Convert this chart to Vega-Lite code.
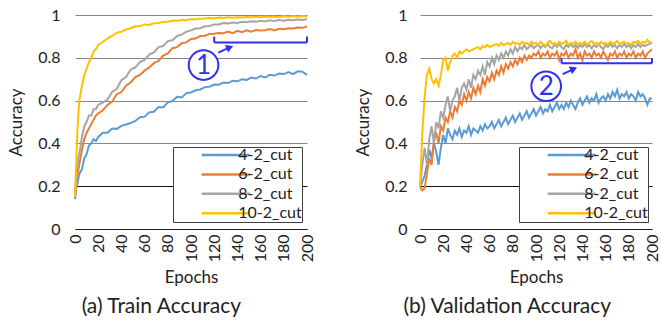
{
"$schema":"https://vega.github.io/schema/vega-lite/v6.json",
"padding":{"left":7,"top":7,"right":0,"bottom":0},
"background":"white",
"config":{"font":"Lato","view":{"stroke":null},
"axis":{"labelFont":"Lato","titleFont":"Lato","labelFontSize":16,"titleFontSize":17,"labelColor":"#222","titleColor":"#222","titleFontWeight":"normal","ticks":false,"labelOverlap":false},
"axisX":{"labelOverlap":false,"labelFlush":false},
"title":{"font":"Lato","fontSize":21,"fontWeight":"normal","color":"#222"}},
"datasets":{
"train":[
{"x":0,"a":0.14,"b":0.15,"c":0.15,"d":0.15},
{"x":1,"a":0.19,"b":0.21,"c":0.23,"d":0.30},
{"x":2,"a":0.21,"b":0.25,"c":0.28,"d":0.45},
{"x":3,"a":0.24,"b":0.28,"c":0.33,"d":0.55},
{"x":4,"a":0.26,"b":0.31,"c":0.36,"d":0.61},
{"x":6,"a":0.28,"b":0.37,"c":0.43,"d":0.67},
{"x":8,"a":0.33,"b":0.42,"c":0.48,"d":0.72},
{"x":10,"a":0.35,"b":0.45,"c":0.50,"d":0.75},
{"x":12,"a":0.39,"b":0.47,"c":0.53,"d":0.78},
{"x":14,"a":0.40,"b":0.49,"c":0.53,"d":0.80},
{"x":16,"a":0.42,"b":0.51,"c":0.56,"d":0.83},
{"x":18,"a":0.41,"b":0.53,"c":0.56,"d":0.84},
{"x":20,"a":0.43,"b":0.54,"c":0.58,"d":0.86},
{"x":24,"a":0.45,"b":0.555,"c":0.59,"d":0.875},
{"x":28,"a":0.45,"b":0.58,"c":0.605,"d":0.89},
{"x":32,"a":0.47,"b":0.595,"c":0.64,"d":0.902},
{"x":36,"a":0.468,"b":0.63,"c":0.655,"d":0.917},
{"x":40,"a":0.482,"b":0.64,"c":0.695,"d":0.922},
{"x":44,"a":0.488,"b":0.67,"c":0.71,"d":0.932},
{"x":48,"a":0.495,"b":0.685,"c":0.745,"d":0.938},
{"x":52,"a":0.505,"b":0.71,"c":0.755,"d":0.947},
{"x":56,"a":0.522,"b":0.72,"c":0.78,"d":0.948},
{"x":60,"a":0.525,"b":0.74,"c":0.79,"d":0.956},
{"x":64,"a":0.545,"b":0.755,"c":0.815,"d":0.953},
{"x":68,"a":0.548,"b":0.775,"c":0.825,"d":0.961},
{"x":72,"a":0.57,"b":0.785,"c":0.85,"d":0.963},
{"x":76,"a":0.568,"b":0.81,"c":0.855,"d":0.967},
{"x":80,"a":0.592,"b":0.82,"c":0.878,"d":0.968},
{"x":84,"a":0.598,"b":0.845,"c":0.882,"d":0.974},
{"x":88,"a":0.618,"b":0.85,"c":0.902,"d":0.973},
{"x":92,"a":0.615,"b":0.868,"c":0.908,"d":0.977},
{"x":96,"a":0.635,"b":0.872,"c":0.922,"d":0.976},
{"x":100,"a":0.638,"b":0.888,"c":0.928,"d":0.981},
{"x":104,"a":0.648,"b":0.89,"c":0.937,"d":0.979},
{"x":108,"a":0.652,"b":0.902,"c":0.938,"d":0.983},
{"x":112,"a":0.663,"b":0.903,"c":0.947,"d":0.984},
{"x":116,"a":0.665,"b":0.911,"c":0.949,"d":0.986},
{"x":120,"a":0.675,"b":0.912,"c":0.956,"d":0.984},
{"x":124,"a":0.674,"b":0.916,"c":0.956,"d":0.988},
{"x":128,"a":0.684,"b":0.915,"c":0.962,"d":0.986},
{"x":132,"a":0.682,"b":0.923,"c":0.96,"d":0.989},
{"x":136,"a":0.693,"b":0.915,"c":0.965,"d":0.987},
{"x":140,"a":0.69,"b":0.926,"c":0.963,"d":0.99},
{"x":144,"a":0.7,"b":0.92,"c":0.968,"d":0.988},
{"x":148,"a":0.697,"b":0.928,"c":0.966,"d":0.991},
{"x":152,"a":0.708,"b":0.922,"c":0.971,"d":0.989},
{"x":156,"a":0.703,"b":0.93,"c":0.968,"d":0.992},
{"x":160,"a":0.715,"b":0.928,"c":0.973,"d":0.99},
{"x":164,"a":0.708,"b":0.929,"c":0.97,"d":0.993},
{"x":168,"a":0.721,"b":0.934,"c":0.975,"d":0.991},
{"x":172,"a":0.717,"b":0.928,"c":0.972,"d":0.993},
{"x":176,"a":0.726,"b":0.936,"c":0.977,"d":0.99},
{"x":180,"a":0.724,"b":0.933,"c":0.973,"d":0.994},
{"x":184,"a":0.733,"b":0.938,"c":0.978,"d":0.992},
{"x":188,"a":0.724,"b":0.937,"c":0.975,"d":0.995},
{"x":192,"a":0.737,"b":0.942,"c":0.979,"d":0.992},
{"x":196,"a":0.735,"b":0.94,"c":0.977,"d":0.995},
{"x":200,"a":0.72,"b":0.946,"c":0.98,"d":0.993}
],
"val":[
{"x":0,"a":0.20,"b":0.20,"c":0.20,"d":0.20},
{"x":2,"a":0.22,"b":0.18,"c":0.30,"d":0.45},
{"x":4,"a":0.25,"b":0.19,"c":0.38,"d":0.62},
{"x":6,"a":0.30,"b":0.26,"c":0.30,"d":0.72},
{"x":8,"a":0.37,"b":0.33,"c":0.42,"d":0.75},
{"x":10,"a":0.33,"b":0.30,"c":0.48,"d":0.70},
{"x":12,"a":0.40,"b":0.41,"c":0.40,"d":0.68},
{"x":14,"a":0.36,"b":0.45,"c":0.50,"d":0.70},
{"x":16,"a":0.30,"b":0.40,"c":0.47,"d":0.67},
{"x":18,"a":0.38,"b":0.48,"c":0.55,"d":0.72},
{"x":20,"a":0.44,"b":0.46,"c":0.52,"d":0.79},
{"x":22,"a":0.40,"b":0.52,"c":0.58,"d":0.80},
{"x":24,"a":0.47,"b":0.50,"c":0.62,"d":0.74},
{"x":26,"a":0.44,"b":0.55,"c":0.55,"d":0.78},
{"x":28,"a":0.42,"b":0.52,"c":0.60,"d":0.81},
{"x":30,"a":0.46,"b":0.57,"c":0.62,"d":0.82},
{"x":32,"a":0.44,"b":0.55,"c":0.66,"d":0.80},
{"x":34,"a":0.47,"b":0.60,"c":0.60,"d":0.83},
{"x":36,"a":0.43,"b":0.58,"c":0.66,"d":0.82},
{"x":38,"a":0.46,"b":0.63,"c":0.68,"d":0.83},
{"x":40,"a":0.45,"b":0.60,"c":0.65,"d":0.84},
{"x":42,"a":0.48,"b":0.64,"c":0.70,"d":0.83},
{"x":44,"a":0.44,"b":0.61,"c":0.66,"d":0.835},
{"x":46,"a":0.47,"b":0.66,"c":0.72,"d":0.84},
{"x":48,"a":0.46,"b":0.63,"c":0.70,"d":0.845},
{"x":50,"a":0.45,"b":0.67,"c":0.74,"d":0.85},
{"x":52,"a":0.48,"b":0.64,"c":0.72,"d":0.84},
{"x":54,"a":0.46,"b":0.70,"c":0.76,"d":0.855},
{"x":56,"a":0.49,"b":0.67,"c":0.72,"d":0.85},
{"x":58,"a":0.47,"b":0.71,"c":0.78,"d":0.86},
{"x":60,"a":0.48,"b":0.69,"c":0.76,"d":0.85},
{"x":62,"a":0.50,"b":0.73,"c":0.80,"d":0.855},
{"x":64,"a":0.47,"b":0.70,"c":0.77,"d":0.86},
{"x":66,"a":0.49,"b":0.74,"c":0.81,"d":0.865},
{"x":68,"a":0.51,"b":0.72,"c":0.79,"d":0.855},
{"x":70,"a":0.48,"b":0.76,"c":0.82,"d":0.87},
{"x":72,"a":0.50,"b":0.73,"c":0.80,"d":0.86},
{"x":74,"a":0.52,"b":0.77,"c":0.83,"d":0.865},
{"x":76,"a":0.49,"b":0.75,"c":0.81,"d":0.87},
{"x":78,"a":0.51,"b":0.78,"c":0.84,"d":0.86},
{"x":80,"a":0.53,"b":0.76,"c":0.82,"d":0.875},
{"x":82,"a":0.50,"b":0.79,"c":0.85,"d":0.865},
{"x":84,"a":0.52,"b":0.77,"c":0.83,"d":0.87},
{"x":86,"a":0.54,"b":0.80,"c":0.85,"d":0.86},
{"x":88,"a":0.51,"b":0.78,"c":0.84,"d":0.875},
{"x":90,"a":0.53,"b":0.81,"c":0.86,"d":0.865},
{"x":92,"a":0.55,"b":0.79,"c":0.84,"d":0.87},
{"x":94,"a":0.52,"b":0.81,"c":0.85,"d":0.86},
{"x":96,"a":0.54,"b":0.80,"c":0.86,"d":0.875},
{"x":98,"a":0.56,"b":0.82,"c":0.845,"d":0.865},
{"x":100,"a":0.53,"b":0.81,"c":0.855,"d":0.87},
{"x":102,"a":0.55,"b":0.83,"c":0.86,"d":0.86},
{"x":104,"a":0.57,"b":0.80,"c":0.845,"d":0.875},
{"x":106,"a":0.54,"b":0.82,"c":0.86,"d":0.865},
{"x":108,"a":0.56,"b":0.81,"c":0.85,"d":0.855},
{"x":110,"a":0.55,"b":0.83,"c":0.865,"d":0.87},
{"x":112,"a":0.58,"b":0.80,"c":0.85,"d":0.88},
{"x":114,"a":0.55,"b":0.82,"c":0.845,"d":0.865},
{"x":116,"a":0.57,"b":0.81,"c":0.86,"d":0.87},
{"x":118,"a":0.59,"b":0.83,"c":0.85,"d":0.86},
{"x":120,"a":0.56,"b":0.79,"c":0.865,"d":0.875},
{"x":122,"a":0.58,"b":0.82,"c":0.85,"d":0.865},
{"x":124,"a":0.56,"b":0.81,"c":0.84,"d":0.87},
{"x":126,"a":0.59,"b":0.83,"c":0.86,"d":0.88},
{"x":128,"a":0.57,"b":0.80,"c":0.85,"d":0.86},
{"x":130,"a":0.60,"b":0.82,"c":0.865,"d":0.87},
{"x":132,"a":0.58,"b":0.81,"c":0.85,"d":0.865},
{"x":134,"a":0.56,"b":0.84,"c":0.86,"d":0.875},
{"x":136,"a":0.59,"b":0.80,"c":0.845,"d":0.86},
{"x":138,"a":0.61,"b":0.82,"c":0.86,"d":0.87},
{"x":140,"a":0.58,"b":0.79,"c":0.85,"d":0.865},
{"x":142,"a":0.60,"b":0.83,"c":0.865,"d":0.875},
{"x":144,"a":0.62,"b":0.81,"c":0.85,"d":0.86},
{"x":146,"a":0.59,"b":0.82,"c":0.86,"d":0.87},
{"x":148,"a":0.61,"b":0.80,"c":0.845,"d":0.88},
{"x":150,"a":0.60,"b":0.83,"c":0.86,"d":0.865},
{"x":152,"a":0.63,"b":0.81,"c":0.85,"d":0.87},
{"x":154,"a":0.59,"b":0.82,"c":0.865,"d":0.86},
{"x":156,"a":0.61,"b":0.80,"c":0.85,"d":0.875},
{"x":158,"a":0.62,"b":0.83,"c":0.84,"d":0.865},
{"x":160,"a":0.60,"b":0.81,"c":0.86,"d":0.87},
{"x":162,"a":0.63,"b":0.79,"c":0.85,"d":0.86},
{"x":164,"a":0.61,"b":0.82,"c":0.865,"d":0.875},
{"x":166,"a":0.64,"b":0.81,"c":0.85,"d":0.865},
{"x":168,"a":0.62,"b":0.83,"c":0.86,"d":0.87},
{"x":170,"a":0.65,"b":0.80,"c":0.845,"d":0.88},
{"x":172,"a":0.61,"b":0.82,"c":0.86,"d":0.865},
{"x":174,"a":0.63,"b":0.81,"c":0.85,"d":0.87},
{"x":176,"a":0.62,"b":0.83,"c":0.865,"d":0.875},
{"x":178,"a":0.64,"b":0.80,"c":0.85,"d":0.865},
{"x":180,"a":0.61,"b":0.82,"c":0.86,"d":0.87},
{"x":182,"a":0.63,"b":0.81,"c":0.845,"d":0.86},
{"x":184,"a":0.62,"b":0.83,"c":0.86,"d":0.875},
{"x":186,"a":0.60,"b":0.80,"c":0.85,"d":0.87},
{"x":188,"a":0.64,"b":0.82,"c":0.865,"d":0.88},
{"x":190,"a":0.62,"b":0.81,"c":0.85,"d":0.865},
{"x":192,"a":0.63,"b":0.83,"c":0.86,"d":0.875},
{"x":194,"a":0.61,"b":0.80,"c":0.855,"d":0.87},
{"x":196,"a":0.58,"b":0.82,"c":0.86,"d":0.885},
{"x":198,"a":0.61,"b":0.83,"c":0.865,"d":0.87},
{"x":200,"a":0.61,"b":0.84,"c":0.87,"d":0.875}
]},
"bounds":"flush",
"spacing":113,
"resolve":{"legend":{"color":"independent"}},
"hconcat":[
{"width":232,"height":214,
"title":{"text":"(a) Train Accuracy","orient":"bottom","frame":"bounds","anchor":"middle","offset":10},
"resolve":{"axis":{"x":"independent","y":"independent"}},
"layer":[
{"data":{"name":"train"},"transform":[{"fold":["a","b","c","d"],"as":["s","y"]}],
"mark":{"type":"line","strokeWidth":2},
"encoding":{
"x":{"field":"x","type":"quantitative","scale":{"domain":[0,200],"nice":false},"axis":{"values":[0,20,40,60,80,100,120,140,160,180,200],"labelAngle":270,"labelOverlap":false,"labelFlush":false,"labelPadding":5,"title":"Epochs","titlePadding":8,"grid":false,"domainColor":"#222"}},
"y":{"field":"y","type":"quantitative","scale":{"domain":[0,1],"nice":false},"axis":{"values":[0,0.2,0.4,0.6,0.8,1],"format":"~g","labelPadding":15,"title":"Accuracy","titlePadding":12,"domain":false,"grid":true,"gridColor":{"condition":{"test":"datum.value === 0.2 || datum.value === 0","value":"#111"},"value":"#888"}}},
"color":{"field":"s","type":"nominal","scale":{"domain":["a","b","c","d"],"range":["#5B9BD5","#ED7D31","#A5A5A5","#FFC000"]},
"legend":{"orient":"none","legendX":98,"legendY":132,"title":null,"strokeColor":"#404040","fillColor":"white","padding":0,"symbolType":"M-4.5,0H4.5","symbolSize":114,"symbolStrokeWidth":2.5,"symbolOffset":44.7,"labelFontSize":16,"labelFont":"Lato","labelColor":"#222","labelOffset":4.6,"rowPadding":3.4,"labelExpr":"({'a':'4-2_cut','b':'6-2_cut','c':'8-2_cut','d':'10-2_cut'})[datum.label] + '\u00a0\u00a0\u00a0\u00a0\u00a0\u00a0\u00a0\u00a0\u00a0\u00a0\u00a0\u00a0\u00a0\u00a0\u00a0\u00a0\u00a0\u00a0'"}}}},
{"data":{"values":[{}]},"mark":{"type":"rule","color":"#3030F0","strokeWidth":2},"encoding":{"x":{"datum":120,"axis":null},"x2":{"datum":200},"y":{"datum":0.872,"axis":null}}},
{"data":{"values":[{}]},"mark":{"type":"rule","color":"#3030F0","strokeWidth":2},"encoding":{"x":{"datum":120,"axis":null},"y":{"datum":0.872,"axis":null},"y2":{"datum":0.899}}},
{"data":{"values":[{}]},"mark":{"type":"rule","color":"#3030F0","strokeWidth":2},"encoding":{"x":{"datum":200,"axis":null},"y":{"datum":0.872,"axis":null},"y2":{"datum":0.899}}},
{"data":{"values":[{}]},"mark":{"type":"rule","color":"#3030F0","strokeWidth":2},"encoding":{"x":{"datum":123.5,"axis":null},"y":{"datum":0.824,"axis":null},"x2":{"datum":132},"y2":{"datum":0.845}}},
{"data":{"values":[{}]},"mark":{"type":"point","shape":"triangle-up","angle":67,"size":70,"filled":true,"color":"#3030F0","opacity":1},"encoding":{"x":{"datum":133.5,"axis":null},"y":{"datum":0.849,"axis":null}}},
{"data":{"values":[{}]},"mark":{"type":"point","shape":"circle","size":880,"filled":true,"fill":"white","stroke":"#3030F0","strokeWidth":2,"opacity":1},"encoding":{"x":{"datum":110.8,"axis":null},"y":{"datum":0.766,"axis":null}}},
{"data":{"values":[{}]},"mark":{"type":"text","text":"1","font":"Lato","fontSize":26,"color":"#3030F0","align":"center","baseline":"middle","dy":1},"encoding":{"x":{"datum":110.8,"axis":null},"y":{"datum":0.766,"axis":null}}}
]},
{"width":232,"height":214,
"title":{"text":"(b) Validation Accuracy","orient":"bottom","frame":"bounds","anchor":"middle","offset":10},
"resolve":{"axis":{"x":"independent","y":"independent"}},
"layer":[
{"data":{"name":"val"},"transform":[{"fold":["a","b","c","d"],"as":["s","y"]}],
"mark":{"type":"line","strokeWidth":2},
"encoding":{
"x":{"field":"x","type":"quantitative","scale":{"domain":[0,200],"nice":false},"axis":{"values":[0,20,40,60,80,100,120,140,160,180,200],"labelAngle":270,"labelOverlap":false,"labelFlush":false,"labelPadding":5,"title":"Epochs","titlePadding":8,"grid":false,"domainColor":"#222"}},
"y":{"field":"y","type":"quantitative","scale":{"domain":[0,1],"nice":false},"axis":{"values":[0,0.2,0.4,0.6,0.8,1],"format":"~g","labelPadding":13,"title":"Accuracy","titlePadding":12,"domain":false,"grid":true,"gridColor":{"condition":{"test":"datum.value === 0.2 || datum.value === 0","value":"#111"},"value":"#888"}}},
"color":{"field":"s","type":"nominal","scale":{"domain":["a","b","c","d"],"range":["#5B9BD5","#ED7D31","#A5A5A5","#FFC000"]},
"legend":{"orient":"none","legendX":99,"legendY":132,"title":null,"strokeColor":"#404040","fillColor":"white","padding":0,"symbolType":"M-4.5,0H4.5","symbolSize":114,"symbolStrokeWidth":2.5,"symbolOffset":44.7,"labelFontSize":16,"labelFont":"Lato","labelColor":"#222","labelOffset":4.6,"rowPadding":3.4,"labelExpr":"({'a':'4-2_cut','b':'6-2_cut','c':'8-2_cut','d':'10-2_cut'})[datum.label] + '\u00a0\u00a0\u00a0\u00a0\u00a0\u00a0\u00a0\u00a0\u00a0\u00a0\u00a0\u00a0\u00a0\u00a0\u00a0\u00a0\u00a0\u00a0'"}}}},
{"data":{"values":[{}]},"mark":{"type":"rule","color":"#3030F0","strokeWidth":2},"encoding":{"x":{"datum":122,"axis":null},"x2":{"datum":200},"y":{"datum":0.774,"axis":null}}},
{"data":{"values":[{}]},"mark":{"type":"rule","color":"#3030F0","strokeWidth":2},"encoding":{"x":{"datum":122,"axis":null},"y":{"datum":0.774,"axis":null},"y2":{"datum":0.798}}},
{"data":{"values":[{}]},"mark":{"type":"rule","color":"#3030F0","strokeWidth":2},"encoding":{"x":{"datum":200,"axis":null},"y":{"datum":0.774,"axis":null},"y2":{"datum":0.798}}},
{"data":{"values":[{}]},"mark":{"type":"rule","color":"#3030F0","strokeWidth":2},"encoding":{"x":{"datum":123,"axis":null},"y":{"datum":0.724,"axis":null},"x2":{"datum":131},"y2":{"datum":0.744}}},
{"data":{"values":[{}]},"mark":{"type":"point","shape":"triangle-up","angle":67,"size":70,"filled":true,"color":"#3030F0","opacity":1},"encoding":{"x":{"datum":132.5,"axis":null},"y":{"datum":0.748,"axis":null}}},
{"data":{"values":[{}]},"mark":{"type":"point","shape":"circle","size":880,"filled":true,"fill":"white","stroke":"#3030F0","strokeWidth":2,"opacity":1},"encoding":{"x":{"datum":108.8,"axis":null},"y":{"datum":0.667,"axis":null}}},
{"data":{"values":[{}]},"mark":{"type":"text","text":"2","font":"Lato","fontSize":26,"color":"#3030F0","align":"center","baseline":"middle","dy":1},"encoding":{"x":{"datum":108.8,"axis":null},"y":{"datum":0.667,"axis":null}}}
]}
]}
